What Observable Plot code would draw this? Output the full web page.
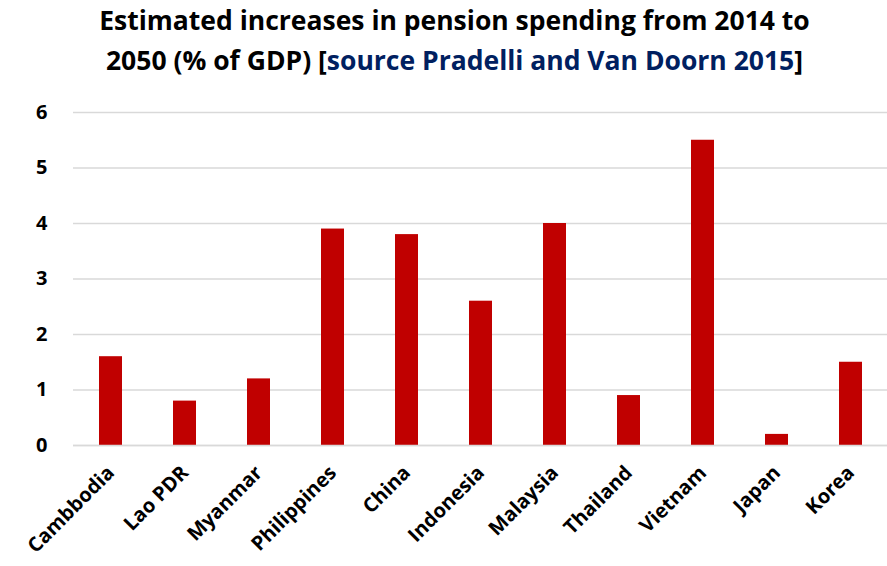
<!DOCTYPE html>
<html>
<head>
<meta charset="utf-8">
<script src="https://cdn.jsdelivr.net/npm/d3@7"></script>
<script src="https://cdn.jsdelivr.net/npm/@observablehq/plot@0.6"></script>
<style>
  html, body { margin: 0; padding: 0; background: #fff; }
  #wrap { width: 887px; height: 566px; position: relative; overflow: hidden; }
  #title { font-family: "Open Sans", sans-serif; font-weight: bold; font-size: 26.5px; line-height: 40px;
           text-align: center; color: #000; padding-left: 22px; height: 90px; box-sizing: border-box; padding-top: 0px; white-space: nowrap; }
  #title .src { color: #002060; }
</style>
</head>
<body>
<div id="wrap">
  <div id="title">Estimated increases in pension spending from 2014 to<br>2050 (% of GDP) [<span class="src">source Pradelli and Van Doorn 2015</span>]</div>
  <div id="chart"></div>
</div>
<script>
const countries = ["Cambbodia", "Lao PDR", "Myanmar", "Philippines", "China", "Indonesia", "Malaysia", "Thailand", "Vietnam", "Japan", "Korea"];
const increases = [1.6, 0.8, 1.2, 3.9, 3.8, 2.6, 4.0, 0.9, 5.5, 0.2, 1.5];
const yTicks = [0, 1, 2, 3, 4, 5, 6];

const data = countries.map((c, i) => ({country: c, value: increases[i]}));

const chart = Plot.plot({
  width: 887,
  height: 476,
  marginTop: 22,
  marginBottom: 121,
  marginLeft: 73,
  marginRight: 0,
  style: {fontFamily: "Open Sans, sans-serif", fontSize: "20px", fontWeight: "bold", color: "#000", background: "#fff"},
  x: {domain: countries, paddingInner: 0.69, paddingOuter: 0.345, label: null},
  y: {domain: [0, 6], label: null},
  marks: [
    Plot.gridY(yTicks, {stroke: "#d9d9d9", strokeOpacity: 1, strokeWidth: 1.3}),
    Plot.barY(data, {x: "country", y: "value", fill: "#C00000"}),
    Plot.ruleY([0], {stroke: "#d9d9d9", strokeWidth: 1.5}),
    Plot.axisY(yTicks, {tickSize: 0, tickPadding: 26, label: null, fontSize: 20, tickFormat: "d"}),
    Plot.axisX({tickSize: 0, tickPadding: 24, tickRotate: -45, label: null, fontSize: 20, dx: 0})
  ]
});
document.getElementById("chart").appendChild(chart);
</script>
</body>
</html>
